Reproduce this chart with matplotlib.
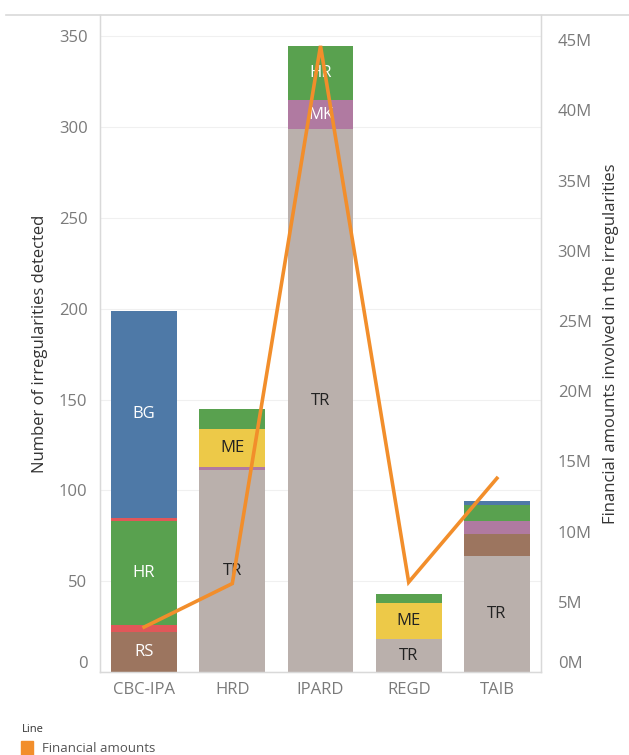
import matplotlib
matplotlib.use("Agg")
import matplotlib.pyplot as plt
from matplotlib.lines import Line2D
from matplotlib.patches import Rectangle
import numpy as np

# Programmes on the x axis
programmes = ["CBC-IPA", "HRD", "IPARD", "REGD", "TAIB"]

# Irregularities detected per country (stacked bottom to top)
countries = ["TR", "RS", "RO", "MK", "ME", "HR", "GR", "BG"]
tr_counts = [0, 111, 299, 18, 64]
rs_counts = [22, 0, 0, 0, 12]
ro_counts = [4, 0, 0, 0, 0]
mk_counts = [0, 2, 16, 0, 7]
me_counts = [0, 21, 0, 20, 0]
hr_counts = [57, 11, 30, 5, 9]
gr_counts = [2, 0, 0, 0, 0]
bg_counts = [114, 0, 0, 0, 2]

# Financial amounts involved (millions)
financial_m = [3.2, 6.3, 44.6, 6.4, 13.8]

left_ticks = [0, 50, 100, 150, 200, 250, 300, 350]
right_ticks = [0, 5, 10, 15, 20, 25, 30, 35, 40, 45]

counts = {
    "TR": tr_counts, "RS": rs_counts, "RO": ro_counts, "MK": mk_counts,
    "ME": me_counts, "HR": hr_counts, "GR": gr_counts, "BG": bg_counts,
}
colors = {
    "TR": "#BAB0AC", "RS": "#9C755F", "RO": "#E15759", "MK": "#B07AA1",
    "ME": "#EDC948", "HR": "#59A14F", "GR": "#E15759", "BG": "#4E79A7",
}
text_colors = {
    "TR": "#222222", "RS": "white", "RO": "white", "MK": "white",
    "ME": "#222222", "HR": "white", "GR": "white", "BG": "white",
}
line_color = "#F28E2B"
tick_color = "#7a7a7a"
frame_color = "#d9d9d9"

plt.rcParams["font.family"] = ["Open Sans", "DejaVu Sans"]

W, H = 629, 755
fig = plt.figure(figsize=(W / 100, H / 100), dpi=100)
ax = fig.add_axes([100 / W, 1 - 672 / H, 441 / W, 657 / H])

x = np.arange(len(programmes))
bottom = np.zeros(len(programmes))
for c in countries:
    vals = np.array(counts[c], dtype=float)
    ax.bar(x, vals, width=0.745, bottom=bottom, color=colors[c], zorder=2,
           linewidth=0)
    for i, v in enumerate(vals):
        if v >= 15:
            ax.text(x[i], bottom[i] + v / 2, c, ha="center", va="center",
                    fontsize=12, color=text_colors[c], zorder=3)
    bottom += vals

ax.set_xlim(-0.5, len(programmes) - 0.5)
ax.set_ylim(0, 361.8)
ax.set_yticks(left_ticks)
ax.set_xticks(x)
ax.set_xticklabels(programmes)
ax.tick_params(axis="both", length=0, colors=tick_color, labelsize=12)
ax.tick_params(axis="x", pad=7)
ax.tick_params(axis="y", pad=9)
ax.yaxis.grid(True, color="#f0f0f0", linewidth=0.8, zorder=0)
ax.set_axisbelow(True)
ax.set_ylabel("Number of irregularities detected", fontsize=12,
              color="#333333", labelpad=8)

ax.spines["top"].set_visible(False)
for side in ["left", "right", "bottom"]:
    ax.spines[side].set_color(frame_color)
    ax.spines[side].set_linewidth(1.0)

ax2 = ax.twinx()
ax2.plot(x, financial_m, color=line_color, linewidth=2.6, zorder=5,
         solid_joinstyle="miter")
ax2.set_ylim(0, 46.8)
ax2.set_yticks(right_ticks)
ax2.set_yticklabels([f"{t}M" for t in right_ticks])
ax2.tick_params(axis="y", length=0, colors=tick_color, labelsize=12, pad=12)
ax2.set_ylabel("Financial amounts involved in the irregularities",
               fontsize=12, color="#333333", labelpad=8)
ax2.spines["top"].set_visible(False)
for side in ["left", "right", "bottom"]:
    ax2.spines[side].set_color(frame_color)

# bottom tick labels sit slightly above the baseline
for lab in ax.get_yticklabels():
    if lab.get_text() == "0":
        lab.set_va("bottom")
for lab in ax2.get_yticklabels():
    if lab.get_text() == "0M":
        lab.set_va("bottom")

# top rule across the whole view
fig.add_artist(Line2D([6 / W, 1.0], [1 - 15 / H, 1 - 15 / H],
                      color=frame_color, linewidth=1.2))

# colour legend
fig.text(22 / W, 1 - 729 / H, "Line", fontsize=8, color="#333333",
         va="center", ha="left")
fig.add_artist(Rectangle((21 / W, 1 - 757 / H), 12 / W, 16 / H,
                         color=line_color, transform=fig.transFigure))
fig.text(42 / W, 1 - 748 / H, "Financial amounts", fontsize=9.5,
         color="#555555", va="center", ha="left")

fig.savefig("out.png", dpi=100)
